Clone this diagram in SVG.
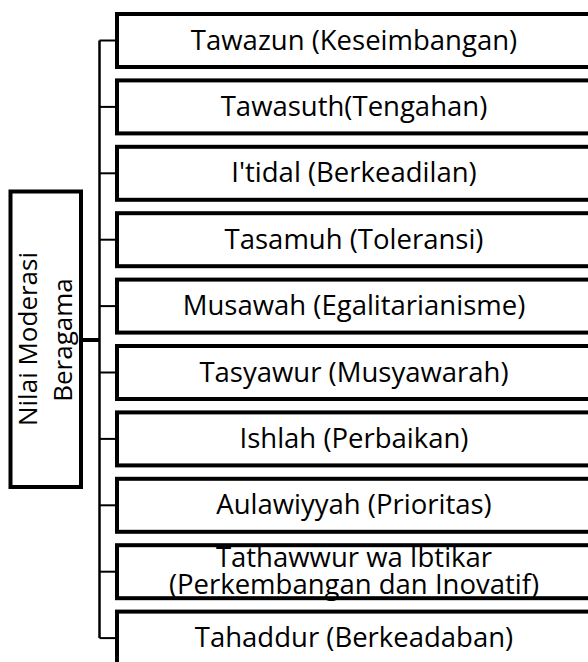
<svg xmlns="http://www.w3.org/2000/svg" width="588" height="662" viewBox="0 0 588 662">
<style>
.box{fill:#fff;stroke:#000;stroke-width:4}
.t{font-family:"Open Sans","Noto Sans",sans-serif;font-size:27.5px;fill:#000;text-anchor:middle}
.r{font-size:26px}
.c{stroke:#000;fill:none}
</style>
<rect x="0" y="0" width="588" height="662" fill="#fff"/>
<g id="connectors">
<line class="c" x1="99.5" y1="40.5" x2="99.5" y2="638.1" stroke-width="2.5"/>
<line class="c" x1="83" y1="340" x2="99.5" y2="340" stroke-width="4"/>
<line class="c" x1="99.5" y1="40.5" x2="117" y2="40.5" stroke-width="2"/>
<line class="c" x1="99.5" y1="106.9" x2="117" y2="106.9" stroke-width="2"/>
<line class="c" x1="99.5" y1="173.3" x2="117" y2="173.3" stroke-width="2"/>
<line class="c" x1="99.5" y1="239.7" x2="117" y2="239.7" stroke-width="2"/>
<line class="c" x1="99.5" y1="306.1" x2="117" y2="306.1" stroke-width="2"/>
<line class="c" x1="99.5" y1="372.5" x2="117" y2="372.5" stroke-width="2"/>
<line class="c" x1="99.5" y1="438.9" x2="117" y2="438.9" stroke-width="2"/>
<line class="c" x1="99.5" y1="505.3" x2="117" y2="505.3" stroke-width="2"/>
<line class="c" x1="99.5" y1="571.7" x2="117" y2="571.7" stroke-width="2"/>
<line class="c" x1="99.5" y1="638.1" x2="117" y2="638.1" stroke-width="2"/>
</g>
<g id="root">
<rect class="box" x="10.5" y="191.5" width="70.5" height="295.5"/>
<text class="t r" transform="translate(37,339) rotate(-90)">Nilai Moderasi</text>
<text class="t r" transform="translate(72,340) rotate(-90)">Beragama</text>
</g>
<g id="n1"><rect class="box" x="117" y="14" width="474" height="53"/><text class="t" x="354" y="49.5">Tawazun (Keseimbangan)</text></g>
<g id="n2"><rect class="box" x="117" y="80.4" width="474" height="53"/><text class="t" x="354" y="115.9">Tawasuth(Tengahan)</text></g>
<g id="n3"><rect class="box" x="117" y="146.8" width="474" height="53"/><text class="t" x="354" y="182.3">I'tidal (Berkeadilan)</text></g>
<g id="n4"><rect class="box" x="117" y="213.2" width="474" height="53"/><text class="t" x="354" y="248.7">Tasamuh (Toleransi)</text></g>
<g id="n5"><rect class="box" x="117" y="279.6" width="474" height="53"/><text class="t" x="354" y="315.1">Musawah (Egalitarianisme)</text></g>
<g id="n6"><rect class="box" x="117" y="346" width="474" height="53"/><text class="t" x="354" y="381.5">Tasyawur (Musyawarah)</text></g>
<g id="n7"><rect class="box" x="117" y="412.4" width="474" height="53"/><text class="t" x="354" y="447.9">Ishlah (Perbaikan)</text></g>
<g id="n8"><rect class="box" x="117" y="478.8" width="474" height="53"/><text class="t" x="354" y="514.3">Aulawiyyah (Prioritas)</text></g>
<g id="n9"><rect class="box" x="117" y="545.2" width="474" height="53"/><text class="t" x="354" y="566.5">Tathawwur wa Ibtikar</text><text class="t" x="354" y="593.5">(Perkembangan dan Inovatif)</text></g>
<g id="n10"><rect class="box" x="117" y="611.6" width="474" height="53"/><text class="t" x="354" y="647.1">Tahaddur (Berkeadaban)</text></g>
</svg>
